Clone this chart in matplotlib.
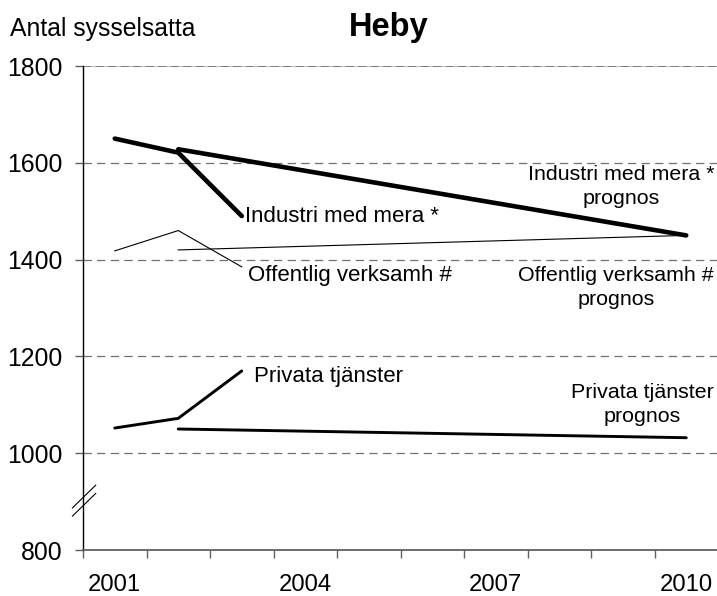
import matplotlib
matplotlib.use("Agg")
import matplotlib.pyplot as plt

plt.rcParams['font.family'] = ['Liberation Sans', 'DejaVu Sans']
plt.rcParams['lines.scale_dashes'] = False

# Observed employment by sector
years_hist = [2001, 2002, 2003]
industri = [1650, 1621, 1490]
offentlig = [1418, 1460, 1385]
privata = [1052, 1072, 1170]

# Forecast lines
years_prog = [2002, 2010]
industri_prog = [1628, 1450]
offentlig_prog = [1420, 1450]
privata_prog = [1050, 1032]

year_labels = [2001, 2004, 2007, 2010]
y_ticks = [800, 1000, 1200, 1400, 1600, 1800]
grid_levels = [1000, 1200, 1400, 1600]

fig = plt.figure(figsize=(7.17, 5.96), dpi=100)
ax = fig.add_axes([83 / 717, 46 / 596, 635 / 717, 484 / 596])
ax.set_xlim(2000.5, 2010.5)
ax.set_ylim(800, 1800)

# Grid lines
for g in grid_levels:
    ax.axhline(g, color='#707070', lw=0.9, dashes=(6, 3.8), zorder=1)
ax.axhline(1800, color='#707070', lw=1.3, ls=(0, (6, 3)), gapcolor='#b8b8b8', zorder=1)

# Series
ax.plot(years_hist, industri, color='black', lw=3.3, solid_capstyle='round', solid_joinstyle='round', zorder=3)
ax.plot(years_prog, industri_prog, color='black', lw=3.3, solid_capstyle='round', zorder=3)
ax.plot(years_hist, offentlig, color='black', lw=0.8, zorder=3)
ax.plot(years_prog, offentlig_prog, color='black', lw=0.8, zorder=3)
ax.plot(years_hist, privata, color='black', lw=2.1, solid_capstyle='round', zorder=3)
ax.plot(years_prog, privata_prog, color='black', lw=2.1, solid_capstyle='round', zorder=3)

# Inline labels at the end of the observed series
lab_fs = 16.0
ax.annotate('Industri med mera *', xy=(years_hist[-1], industri[-1]), xytext=(3, 0),
            textcoords='offset pixels', ha='left', va='center', fontsize=lab_fs)
ax.annotate('Offentlig verksamh #', xy=(years_hist[-1], offentlig[-1]), xytext=(6, -9),
            textcoords='offset pixels', ha='left', va='center', fontsize=lab_fs)
ax.annotate('Privata tjänster', xy=(years_hist[-1], privata[-1]), xytext=(12, -6),
            textcoords='offset pixels', ha='left', va='center', fontsize=lab_fs)

# Forecast labels
prog_fs = 15.4
ax.text(2008.97, 1551, 'Industri med mera *\nprognos', ha='center', va='center',
        fontsize=prog_fs, linespacing=1.35)
ax.text(2008.89, 1342, 'Offentlig verksamh #\nprognos', ha='center', va='center',
        fontsize=prog_fs, linespacing=1.35)
ax.text(2009.31, 1101, 'Privata tjänster\nprognos', ha='center', va='center',
        fontsize=prog_fs, linespacing=1.35)

# Axes styling
for s in ['top', 'right']:
    ax.spines[s].set_visible(False)
ax.spines['left'].set_color('black')
ax.spines['left'].set_linewidth(1.0)
ax.spines['bottom'].set_color('#606060')
ax.spines['bottom'].set_linewidth(1.3)

ax.set_yticks(y_ticks)
ax.set_yticklabels([str(v) for v in y_ticks], fontsize=17.8)
ax.tick_params(axis='y', length=5.5, width=1.0, color='#606060', pad=9)

ax.set_xticks(year_labels)
ax.set_xticklabels([str(v) for v in year_labels], fontsize=17.2)
ax.set_xticks([y + 0.5 for y in range(2000, 2011)], minor=True)
ax.tick_params(axis='x', which='major', length=0, pad=17)
ax.tick_params(axis='x', which='minor', length=6, width=1.0, color='#606060', direction='out')

# Axis break marks
for dy in (0, -17):
    ax.plot([2000.334, 2000.70], [887 + dy, 934 + dy], color='black', lw=0.8,
            clip_on=False, zorder=4)

fig.text(10.5 / 717, 1 - 36 / 596, 'Antal sysselsatta', fontsize=17.8, ha='left', va='baseline')
fig.text(389 / 717, 1 - 36 / 596, 'Heby', fontsize=23.5, fontweight='bold', ha='center', va='baseline')

fig.savefig('out.png', dpi=100)
